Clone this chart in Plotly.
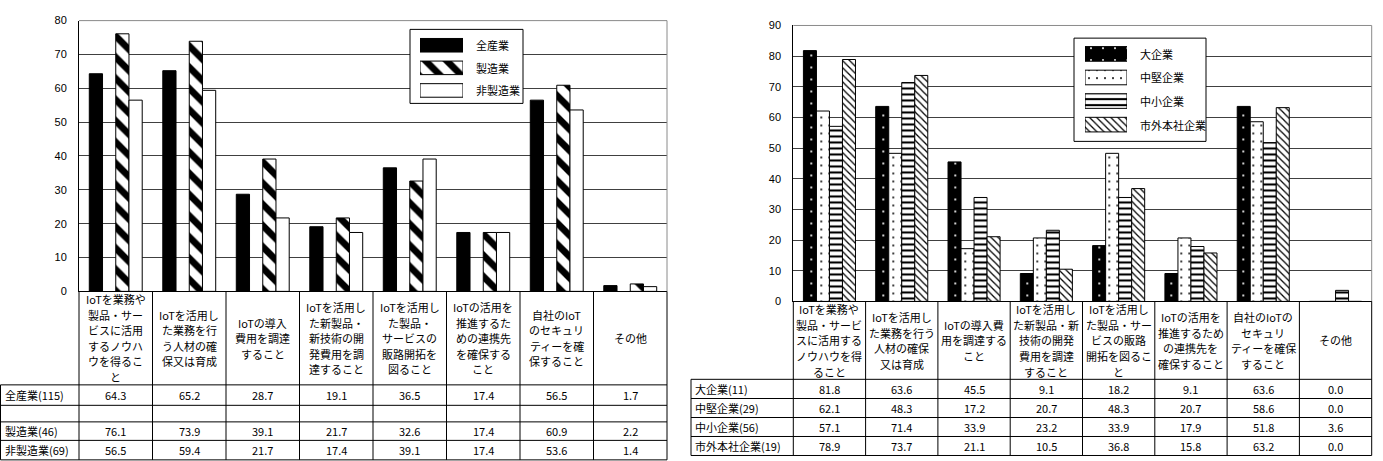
import plotly.graph_objects as go

W, H = 1383, 461

# ---------------- data: left chart (業種別) ----------------
left_categories = [
    "IoTを業務や|製品・サー|ビスに活用|するノウハ|ウを得るこ|と",
    "IoTを活用し|た業務を行|う人材の確|保又は育成",
    "IoTの導入|費用を調達|すること",
    "IoTを活用し|た新製品・|新技術の開|発費用を調|達すること",
    "IoTを活用し|た製品・|サービスの|販路開拓を|図ること",
    "IoTの活用を|推進するた|めの連携先|を確保する|こと",
    "自社のIoT|のセキュリ|ティーを確|保すること",
    "その他",
]
left_series = ["全産業", "", "製造業", "非製造業"]
left_row_labels = ["全産業(115)", "", "製造業(46)", "非製造業(69)"]
left_all = [64.3, 65.2, 28.7, 19.1, 36.5, 17.4, 56.5, 1.7]
left_blank = [None, None, None, None, None, None, None, None]
left_mfg = [76.1, 73.9, 39.1, 21.7, 32.6, 17.4, 60.9, 2.2]
left_nonmfg = [56.5, 59.4, 21.7, 17.4, 39.1, 17.4, 53.6, 1.4]
left_yticks = [0, 10, 20, 30, 40, 50, 60, 70, 80]

# ---------------- data: right chart (規模別) ----------------
right_categories = [
    "IoTを業務や|製品・サービ|スに活用する|ノウハウを得|ること",
    "IoTを活用し|た業務を行う|人材の確保|又は育成",
    "IoTの導入費|用を調達する|こと",
    "IoTを活用し|た新製品・新|技術の開発|費用を調達|すること",
    "IoTを活用し|た製品・サー|ビスの販路|開拓を図るこ|と",
    "IoTの活用を|推進するため|の連携先を|確保すること",
    "自社のIoTの|セキュリ|ティーを確保|すること",
    "その他",
]
right_series = ["大企業", "中堅企業", "中小企業", "市外本社企業"]
right_row_labels = ["大企業(11)", "中堅企業(29)", "中小企業(56)", "市外本社企業(19)"]
right_large = [81.8, 63.6, 45.5, 9.1, 18.2, 9.1, 63.6, 0.0]
right_mid = [62.1, 48.3, 17.2, 20.7, 48.3, 20.7, 58.6, 0.0]
right_small = [57.1, 71.4, 33.9, 23.2, 33.9, 17.9, 51.8, 3.6]
right_outside = [78.9, 73.7, 21.1, 10.5, 36.8, 15.8, 63.2, 0.0]
right_yticks = [0, 10, 20, 30, 40, 50, 60, 70, 80, 90]

# ---------------- styles ----------------
STYLES = {
    "全産業": dict(bg="black", fg="black", shape="", size=8, sol=0.3),
    "": dict(bg="white", fg="white", shape="", size=8, sol=0.3),
    "製造業": dict(bg="white", fg="black", shape="\\", size=15, sol=0.45),
    "非製造業": dict(bg="white", fg="black", shape="", size=8, sol=0.3),
    "大企業": dict(bg="black", fg="white", shape=".", size=12, sol=0.025),
    "中堅企業": dict(bg="white", fg="black", shape=".", size=8, sol=0.05),
    "中小企業": dict(bg="white", fg="black", shape="-", size=6, sol=0.35),
    "市外本社企業": dict(bg="white", fg="black", shape="\\", size=5, sol=0.25),
}
FONT_JP = "Noto Sans CJK JP"
GRID = "#404040"
BORDER = "#8a8a8a"


def px(x):
    return x / W


def py(y):
    return 1 - y / H


def marker_for(name, line_w=1):
    st = STYLES[name]
    return dict(color=st["bg"], line=dict(color="black", width=line_w),
                pattern=dict(shape=st["shape"], fgcolor=st["fg"], bgcolor=st["bg"],
                             size=st["size"], solidity=st["sol"], fillmode="replace"))


fig = go.Figure()
shapes = []
annotations = []

CHARTS = [
    dict(xa="x", ya="y", cats=left_categories, names=left_series, rows=left_row_labels,
         vals=[left_all, left_blank, left_mfg, left_nonmfg], yticks=left_yticks,
         x0=79, x1=667, ytop=15, ybot=293, table_left=0.5,
         row_edges=[389, 410, 427, 446, 466], ymax=80,
         legend=dict(xa="x3", ya="y3", names=["全産業", "製造業", "非製造業"],
                     sx0=420, sx1=463, sy0=28.7, sy1=98.3, wid=0.6, tx=474,
                     box=(410, 523, 24, 100))),
    dict(xa="x2", ya="y2", cats=right_categories, names=right_series, rows=right_row_labels,
         vals=[right_large, right_mid, right_small, right_outside], yticks=right_yticks,
         x0=793.3, x1=1371.7, ytop=20, ybot=303.3, table_left=691,
         row_edges=[383.3, 403, 422.5, 442, 461.5], ymax=90,
         legend=dict(xa="x4", ya="y4", names=right_series,
                     sx0=1085, sx1=1127, sy0=37.1, sy1=133.9, wid=0.62, tx=1138,
                     box=(1074, 1206, 33, 139))),
]

layout_axes = {}
for ci, ch in enumerate(CHARTS):
    keys = [c.replace("|", "") for c in ch["cats"]]
    ncat = len(keys)
    xa, ya = ch["xa"], ch["ya"]
    for name, vals in zip(ch["names"], ch["vals"]):
        fig.add_trace(go.Bar(
            x=keys, y=vals, xaxis=xa, yaxis=ya, name=name, showlegend=False,
            hoverinfo="skip", marker=marker_for(name, 1 if name else 0),
        ))
    xname = "xaxis" + xa[1:]
    yname = "yaxis" + ya[1:]
    layout_axes[xname] = dict(domain=[px(ch["x0"]), px(ch["x1"])], anchor=ya, type="category",
                              categoryorder="array", categoryarray=keys, range=[-0.5, ncat - 0.5],
                              showticklabels=False, showgrid=False, zeroline=False, ticks="",
                              showline=True, linecolor="black", linewidth=1)
    layout_axes[yname] = dict(domain=[py(ch["ybot"]), py(ch["ytop"])], anchor=xa,
                              range=[0, ch["ymax"]], tickvals=ch["yticks"], showgrid=True,
                              gridcolor=GRID, gridwidth=1, zeroline=False, ticks="",
                              showline=True, linecolor="black", linewidth=1,
                              tickfont=dict(family="Liberation Sans", size=11, color="black"),
                              ticklabelstandoff=9)
    # plot-area top & right borders
    shapes.append(dict(type="line", xref="paper", yref="paper", x0=px(ch["x0"]), x1=px(ch["x1"]),
                       y0=py(ch["ytop"]), y1=py(ch["ytop"]), line=dict(color=BORDER, width=1)))
    shapes.append(dict(type="line", xref="paper", yref="paper", x0=px(ch["x1"]), x1=px(ch["x1"]),
                       y0=py(ch["ybot"]), y1=py(ch["ytop"]), line=dict(color=BORDER, width=1)))

    # ---------- data table ----------
    re = ch["row_edges"]
    tb = re[-1]
    for i in range(ncat + 1):
        xv = ch["x0"] + (ch["x1"] - ch["x0"]) * i / ncat
        shapes.append(dict(type="line", xref="paper", yref="paper", x0=px(xv), x1=px(xv),
                           y0=py(ch["ybot"]), y1=py(tb), line=dict(color="black", width=1)))
    shapes.append(dict(type="line", xref="paper", yref="paper", x0=px(ch["table_left"]),
                       x1=px(ch["table_left"]), y0=py(re[0]), y1=py(tb),
                       line=dict(color="black", width=1)))
    for yv in re:
        shapes.append(dict(type="line", xref="paper", yref="paper", x0=px(ch["table_left"]),
                           x1=px(ch["x1"]), y0=py(yv), y1=py(yv),
                           line=dict(color="black", width=1)))
    hc = (ch["ybot"] + re[0]) / 2
    for key, cat in zip(keys, ch["cats"]):
        lines = cat.split("|")
        n = len(lines)
        for k, ln in enumerate(lines):
            yk = hc + (k - (n - 1) / 2) * 16
            annotations.append(dict(x=key, xref=xa, y=py(yk), yref="paper", text=ln,
                                    showarrow=False, xanchor="center", yanchor="middle",
                                    font=dict(family=FONT_JP, size=11, color="black")))
    for r, (lab, vals) in enumerate(zip(ch["rows"], ch["vals"])):
        yc = (re[r] + re[r + 1]) / 2
        annotations.append(dict(x=px(ch["table_left"] + 2), xref="paper", y=py(yc), yref="paper",
                                text=lab, showarrow=False, xanchor="left", yanchor="middle",
                                font=dict(family=FONT_JP, size=11, color="black")))
        for key, v in zip(keys, vals):
            if v is None:
                continue
            annotations.append(dict(x=key, xref=xa, y=py(yc), yref="paper", text=f"{v:.1f}",
                                    showarrow=False, xanchor="center", yanchor="middle",
                                    font=dict(family=FONT_JP, size=11, color="black")))

    # ---------- legend (box between grid and bars) ----------
    lg = ch["legend"]
    bx0, bx1, by0, by1 = lg["box"]
    catw = (ch["x1"] - ch["x0"]) / ncat
    yscale = ch["ymax"] / (ch["ybot"] - ch["ytop"])
    shapes.append(dict(type="rect", xref=xa, yref=ya, layer="between",
                       x0=-0.5 + (bx0 - ch["x0"]) / catw, x1=-0.5 + (bx1 - ch["x0"]) / catw,
                       y0=(ch["ybot"] - by1) * yscale, y1=(ch["ybot"] - by0) * yscale,
                       fillcolor="white", line=dict(color="black", width=1)))
    nl = len(lg["names"])
    for n in lg["names"]:
        fig.add_trace(go.Bar(
            y=[n], x=[1], orientation="h", xaxis=lg["xa"], yaxis=lg["ya"],
            width=lg["wid"], offsetgroup="swatch", showlegend=False, hoverinfo="skip",
            cliponaxis=False, marker=marker_for(n),
        ))
        annotations.append(dict(x=px(lg["tx"]), xref="paper", y=n, yref=lg["ya"], text=n,
                                showarrow=False, xanchor="left", yanchor="middle",
                                font=dict(family=FONT_JP, size=11, color="black")))
    layout_axes["xaxis" + lg["xa"][1:]] = dict(domain=[px(lg["sx0"]), px(lg["sx1"])], anchor=lg["ya"],
                                               range=[0, 1], visible=False, fixedrange=True)
    layout_axes["yaxis" + lg["ya"][1:]] = dict(domain=[py(lg["sy1"]), py(lg["sy0"])], anchor=lg["xa"],
                                               type="category", categoryorder="array",
                                               categoryarray=lg["names"][::-1],
                                               range=[-0.5, nl - 0.5], visible=False,
                                               fixedrange=True)

fig.update_layout(
    width=W, height=H, margin=dict(l=0, r=0, t=0, b=0),
    paper_bgcolor="white", plot_bgcolor="white",
    barmode="group", bargap=0.28, bargroupgap=0,
    showlegend=False, shapes=shapes, annotations=annotations,
    font=dict(family=FONT_JP, size=11, color="black"),
    **layout_axes,
)

fig.write_html("out.html")
